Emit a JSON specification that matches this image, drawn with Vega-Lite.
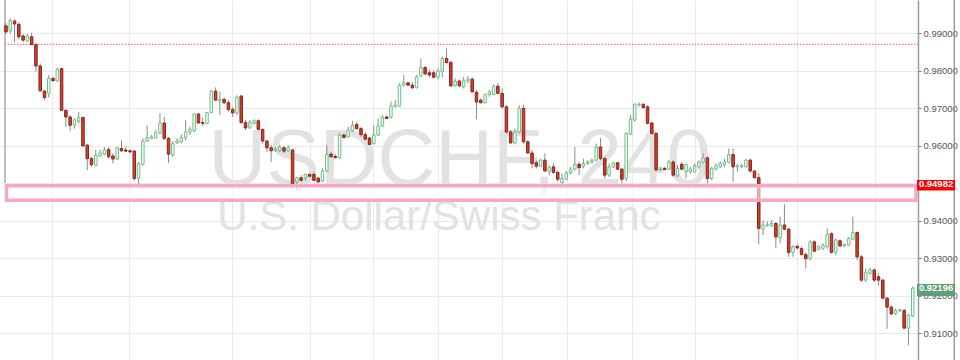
{
  "$schema": "https://vega.github.io/schema/vega-lite/v6.json",
  "width": 918,
  "height": 360,
  "autosize": "none",
  "padding": {"left": 0, "top": 0, "right": 42, "bottom": 0},
  "background": "white",
  "config": {"view": {"stroke": null}, "font": "Liberation Sans"},
  "datasets": {
    "candles": [
      {"i":1,"o":0.9919,"h":0.9927,"l":0.9897,"c":0.9903},
      {"i":2,"o":0.9906,"h":0.9939,"l":0.9899,"c":0.9933},
      {"i":3,"o":0.9932,"h":0.9937,"l":0.9876,"c":0.9924},
      {"i":4,"o":0.9923,"h":0.9929,"l":0.9884,"c":0.9890},
      {"i":5,"o":0.9892,"h":0.9897,"l":0.9876,"c":0.9881},
      {"i":6,"o":0.9879,"h":0.9897,"l":0.9876,"c":0.9892},
      {"i":7,"o":0.9890,"h":0.9901,"l":0.9869,"c":0.9869},
      {"i":8,"o":0.9869,"h":0.9872,"l":0.9797,"c":0.9812},
      {"i":9,"o":0.9812,"h":0.9819,"l":0.9743,"c":0.9746},
      {"i":10,"o":0.9745,"h":0.9748,"l":0.9721,"c":0.9728},
      {"i":11,"o":0.9739,"h":0.9788,"l":0.9728,"c":0.9779},
      {"i":12,"o":0.9779,"h":0.9783,"l":0.9770,"c":0.9773},
      {"i":13,"o":0.9772,"h":0.9808,"l":0.9770,"c":0.9803},
      {"i":14,"o":0.9805,"h":0.9807,"l":0.9692,"c":0.9694},
      {"i":15,"o":0.9694,"h":0.9694,"l":0.9650,"c":0.9676},
      {"i":16,"o":0.9676,"h":0.9681,"l":0.9639,"c":0.9654},
      {"i":17,"o":0.9654,"h":0.9672,"l":0.9645,"c":0.9668},
      {"i":18,"o":0.9665,"h":0.9690,"l":0.9659,"c":0.9674},
      {"i":19,"o":0.9675,"h":0.9676,"l":0.9596,"c":0.9599},
      {"i":20,"o":0.9601,"h":0.9605,"l":0.9534,"c":0.9565},
      {"i":21,"o":0.9565,"h":0.9570,"l":0.9543,"c":0.9549},
      {"i":22,"o":0.9547,"h":0.9588,"l":0.9545,"c":0.9574},
      {"i":23,"o":0.9572,"h":0.9589,"l":0.9570,"c":0.9580},
      {"i":24,"o":0.9577,"h":0.9596,"l":0.9574,"c":0.9588},
      {"i":25,"o":0.9589,"h":0.9596,"l":0.9565,"c":0.9570},
      {"i":26,"o":0.9572,"h":0.9579,"l":0.9552,"c":0.9564},
      {"i":27,"o":0.9564,"h":0.9596,"l":0.9561,"c":0.9594},
      {"i":28,"o":0.9592,"h":0.9614,"l":0.9583,"c":0.9586},
      {"i":29,"o":0.9588,"h":0.9596,"l":0.9583,"c":0.9585},
      {"i":30,"o":0.9586,"h":0.9589,"l":0.9580,"c":0.9583},
      {"i":31,"o":0.9585,"h":0.9588,"l":0.9507,"c":0.9512},
      {"i":32,"o":0.9512,"h":0.9556,"l":0.9490,"c":0.9552},
      {"i":33,"o":0.9550,"h":0.9619,"l":0.9547,"c":0.9612},
      {"i":34,"o":0.9612,"h":0.9654,"l":0.9610,"c":0.9621},
      {"i":35,"o":0.9619,"h":0.9628,"l":0.9619,"c":0.9623},
      {"i":36,"o":0.9620,"h":0.9641,"l":0.9619,"c":0.9634},
      {"i":37,"o":0.9634,"h":0.9687,"l":0.9630,"c":0.9660},
      {"i":38,"o":0.9660,"h":0.9676,"l":0.9614,"c":0.9619},
      {"i":39,"o":0.9619,"h":0.9623,"l":0.9554,"c":0.9577},
      {"i":40,"o":0.9574,"h":0.9612,"l":0.9570,"c":0.9605},
      {"i":41,"o":0.9607,"h":0.9619,"l":0.9605,"c":0.9612},
      {"i":42,"o":0.9610,"h":0.9630,"l":0.9605,"c":0.9621},
      {"i":43,"o":0.9621,"h":0.9668,"l":0.9614,"c":0.9636},
      {"i":44,"o":0.9636,"h":0.9650,"l":0.9628,"c":0.9643},
      {"i":45,"o":0.9639,"h":0.9686,"l":0.9636,"c":0.9684},
      {"i":46,"o":0.9684,"h":0.9686,"l":0.9659,"c":0.9660},
      {"i":47,"o":0.9661,"h":0.9675,"l":0.9652,"c":0.9659},
      {"i":48,"o":0.9659,"h":0.9690,"l":0.9657,"c":0.9688},
      {"i":49,"o":0.9688,"h":0.9748,"l":0.9686,"c":0.9745},
      {"i":50,"o":0.9745,"h":0.9755,"l":0.9719,"c":0.9721},
      {"i":51,"o":0.9719,"h":0.9743,"l":0.9681,"c":0.9723},
      {"i":52,"o":0.9723,"h":0.9728,"l":0.9710,"c":0.9714},
      {"i":53,"o":0.9714,"h":0.9721,"l":0.9690,"c":0.9696},
      {"i":54,"o":0.9696,"h":0.9703,"l":0.9676,"c":0.9687},
      {"i":55,"o":0.9687,"h":0.9734,"l":0.9681,"c":0.9728},
      {"i":56,"o":0.9732,"h":0.9734,"l":0.9659,"c":0.9661},
      {"i":57,"o":0.9661,"h":0.9668,"l":0.9641,"c":0.9647},
      {"i":58,"o":0.9647,"h":0.9668,"l":0.9645,"c":0.9661},
      {"i":59,"o":0.9659,"h":0.9670,"l":0.9656,"c":0.9666},
      {"i":60,"o":0.9666,"h":0.9670,"l":0.9641,"c":0.9643},
      {"i":61,"o":0.9643,"h":0.9645,"l":0.9605,"c":0.9612},
      {"i":62,"o":0.9612,"h":0.9614,"l":0.9583,"c":0.9594},
      {"i":63,"o":0.9594,"h":0.9601,"l":0.9556,"c":0.9586},
      {"i":64,"o":0.9586,"h":0.9596,"l":0.9583,"c":0.9590},
      {"i":65,"o":0.9586,"h":0.9601,"l":0.9583,"c":0.9596},
      {"i":66,"o":0.9594,"h":0.9598,"l":0.9580,"c":0.9585},
      {"i":67,"o":0.9585,"h":0.9601,"l":0.9583,"c":0.9594},
      {"i":68,"o":0.9588,"h":0.9592,"l":0.9490,"c":0.9496},
      {"i":69,"o":0.9503,"h":0.9516,"l":0.9481,"c":0.9514},
      {"i":70,"o":0.9514,"h":0.9521,"l":0.9503,"c":0.9507},
      {"i":71,"o":0.9513,"h":0.9525,"l":0.9507,"c":0.9523},
      {"i":72,"o":0.9523,"h":0.9525,"l":0.9516,"c":0.9518},
      {"i":73,"o":0.9523,"h":0.9530,"l":0.9505,"c":0.9507},
      {"i":74,"o":0.9513,"h":0.9516,"l":0.9499,"c":0.9503},
      {"i":75,"o":0.9505,"h":0.9539,"l":0.9503,"c":0.9532},
      {"i":76,"o":0.9532,"h":0.9601,"l":0.9530,"c":0.9577},
      {"i":77,"o":0.9577,"h":0.9583,"l":0.9568,"c":0.9570},
      {"i":78,"o":0.9571,"h":0.9577,"l":0.9565,"c":0.9568},
      {"i":79,"o":0.9568,"h":0.9632,"l":0.9565,"c":0.9628},
      {"i":80,"o":0.9628,"h":0.9632,"l":0.9619,"c":0.9621},
      {"i":81,"o":0.9623,"h":0.9650,"l":0.9621,"c":0.9641},
      {"i":82,"o":0.9639,"h":0.9666,"l":0.9636,"c":0.9654},
      {"i":83,"o":0.9656,"h":0.9663,"l":0.9643,"c":0.9645},
      {"i":84,"o":0.9645,"h":0.9650,"l":0.9623,"c":0.9629},
      {"i":85,"o":0.9629,"h":0.9636,"l":0.9614,"c":0.9617},
      {"i":86,"o":0.9620,"h":0.9623,"l":0.9601,"c":0.9603},
      {"i":87,"o":0.9605,"h":0.9654,"l":0.9603,"c":0.9628},
      {"i":88,"o":0.9628,"h":0.9672,"l":0.9625,"c":0.9652},
      {"i":89,"o":0.9652,"h":0.9681,"l":0.9650,"c":0.9676},
      {"i":90,"o":0.9676,"h":0.9681,"l":0.9670,"c":0.9672},
      {"i":91,"o":0.9675,"h":0.9717,"l":0.9672,"c":0.9705},
      {"i":92,"o":0.9703,"h":0.9721,"l":0.9702,"c":0.9708},
      {"i":93,"o":0.9705,"h":0.9766,"l":0.9703,"c":0.9761},
      {"i":94,"o":0.9761,"h":0.9788,"l":0.9757,"c":0.9767},
      {"i":95,"o":0.9767,"h":0.9770,"l":0.9758,"c":0.9761},
      {"i":96,"o":0.9761,"h":0.9770,"l":0.9750,"c":0.9754},
      {"i":97,"o":0.9754,"h":0.9788,"l":0.9752,"c":0.9783},
      {"i":98,"o":0.9785,"h":0.9832,"l":0.9783,"c":0.9808},
      {"i":99,"o":0.9808,"h":0.9812,"l":0.9788,"c":0.9791},
      {"i":100,"o":0.9794,"h":0.9803,"l":0.9782,"c":0.9788},
      {"i":101,"o":0.9794,"h":0.9801,"l":0.9779,"c":0.9782},
      {"i":102,"o":0.9782,"h":0.9806,"l":0.9776,"c":0.9799},
      {"i":103,"o":0.9797,"h":0.9837,"l":0.9782,"c":0.9832},
      {"i":104,"o":0.9832,"h":0.9859,"l":0.9819,"c":0.9821},
      {"i":105,"o":0.9822,"h":0.9824,"l":0.9757,"c":0.9759},
      {"i":106,"o":0.9759,"h":0.9779,"l":0.9757,"c":0.9772},
      {"i":107,"o":0.9772,"h":0.9776,"l":0.9757,"c":0.9759},
      {"i":108,"o":0.9757,"h":0.9783,"l":0.9752,"c":0.9773},
      {"i":109,"o":0.9772,"h":0.9785,"l":0.9766,"c":0.9777},
      {"i":110,"o":0.9777,"h":0.9782,"l":0.9742,"c":0.9743},
      {"i":111,"o":0.9742,"h":0.9748,"l":0.9670,"c":0.9716},
      {"i":112,"o":0.9721,"h":0.9726,"l":0.9712,"c":0.9714},
      {"i":113,"o":0.9714,"h":0.9739,"l":0.9712,"c":0.9736},
      {"i":114,"o":0.9736,"h":0.9748,"l":0.9730,"c":0.9743},
      {"i":115,"o":0.9736,"h":0.9763,"l":0.9734,"c":0.9758},
      {"i":116,"o":0.9758,"h":0.9766,"l":0.9737,"c":0.9739},
      {"i":117,"o":0.9739,"h":0.9752,"l":0.9699,"c":0.9703},
      {"i":118,"o":0.9703,"h":0.9708,"l":0.9632,"c":0.9636},
      {"i":119,"o":0.9636,"h":0.9641,"l":0.9605,"c":0.9607},
      {"i":120,"o":0.9607,"h":0.9645,"l":0.9603,"c":0.9636},
      {"i":121,"o":0.9636,"h":0.9708,"l":0.9632,"c":0.9699},
      {"i":122,"o":0.9699,"h":0.9708,"l":0.9605,"c":0.9610},
      {"i":123,"o":0.9610,"h":0.9614,"l":0.9579,"c":0.9580},
      {"i":124,"o":0.9580,"h":0.9588,"l":0.9539,"c":0.9552},
      {"i":125,"o":0.9554,"h":0.9559,"l":0.9539,"c":0.9545},
      {"i":126,"o":0.9545,"h":0.9565,"l":0.9543,"c":0.9561},
      {"i":127,"o":0.9561,"h":0.9579,"l":0.9530,"c":0.9532},
      {"i":128,"o":0.9530,"h":0.9548,"l":0.9521,"c":0.9541},
      {"i":129,"o":0.9543,"h":0.9552,"l":0.9525,"c":0.9528},
      {"i":130,"o":0.9528,"h":0.9534,"l":0.9503,"c":0.9510},
      {"i":131,"o":0.9501,"h":0.9525,"l":0.9499,"c":0.9512},
      {"i":132,"o":0.9510,"h":0.9532,"l":0.9508,"c":0.9527},
      {"i":133,"o":0.9527,"h":0.9543,"l":0.9523,"c":0.9537},
      {"i":134,"o":0.9537,"h":0.9596,"l":0.9534,"c":0.9550},
      {"i":135,"o":0.9550,"h":0.9556,"l":0.9521,"c":0.9541},
      {"i":136,"o":0.9545,"h":0.9565,"l":0.9539,"c":0.9552},
      {"i":137,"o":0.9552,"h":0.9561,"l":0.9548,"c":0.9556},
      {"i":138,"o":0.9556,"h":0.9565,"l":0.9552,"c":0.9561},
      {"i":139,"o":0.9561,"h":0.9605,"l":0.9558,"c":0.9596},
      {"i":140,"o":0.9596,"h":0.9620,"l":0.9561,"c":0.9565},
      {"i":141,"o":0.9565,"h":0.9570,"l":0.9512,"c":0.9521},
      {"i":142,"o":0.9521,"h":0.9552,"l":0.9516,"c":0.9543},
      {"i":143,"o":0.9543,"h":0.9556,"l":0.9540,"c":0.9554},
      {"i":144,"o":0.9554,"h":0.9556,"l":0.9534,"c":0.9537},
      {"i":145,"o":0.9537,"h":0.9540,"l":0.9499,"c":0.9510},
      {"i":146,"o":0.9512,"h":0.9635,"l":0.9505,"c":0.9632},
      {"i":147,"o":0.9630,"h":0.9681,"l":0.9628,"c":0.9670},
      {"i":148,"o":0.9668,"h":0.9712,"l":0.9663,"c":0.9710},
      {"i":149,"o":0.9708,"h":0.9715,"l":0.9703,"c":0.9710},
      {"i":150,"o":0.9710,"h":0.9712,"l":0.9699,"c":0.9701},
      {"i":151,"o":0.9703,"h":0.9708,"l":0.9656,"c":0.9659},
      {"i":152,"o":0.9660,"h":0.9663,"l":0.9629,"c":0.9632},
      {"i":153,"o":0.9632,"h":0.9635,"l":0.9530,"c":0.9535},
      {"i":154,"o":0.9535,"h":0.9543,"l":0.9532,"c":0.9537},
      {"i":155,"o":0.9539,"h":0.9543,"l":0.9534,"c":0.9536},
      {"i":156,"o":0.9537,"h":0.9561,"l":0.9534,"c":0.9556},
      {"i":157,"o":0.9556,"h":0.9561,"l":0.9516,"c":0.9521},
      {"i":158,"o":0.9519,"h":0.9548,"l":0.9516,"c":0.9539},
      {"i":159,"o":0.9550,"h":0.9556,"l":0.9534,"c":0.9537},
      {"i":160,"o":0.9530,"h":0.9552,"l":0.9512,"c":0.9550},
      {"i":161,"o":0.9530,"h":0.9543,"l":0.9525,"c":0.9537},
      {"i":162,"o":0.9530,"h":0.9552,"l":0.9528,"c":0.9546},
      {"i":163,"o":0.9543,"h":0.9561,"l":0.9537,"c":0.9556},
      {"i":164,"o":0.9556,"h":0.9579,"l":0.9552,"c":0.9567},
      {"i":165,"o":0.9567,"h":0.9570,"l":0.9499,"c":0.9512},
      {"i":166,"o":0.9512,"h":0.9543,"l":0.9508,"c":0.9539},
      {"i":167,"o":0.9537,"h":0.9552,"l":0.9534,"c":0.9546},
      {"i":168,"o":0.9543,"h":0.9558,"l":0.9539,"c":0.9552},
      {"i":169,"o":0.9548,"h":0.9565,"l":0.9543,"c":0.9556},
      {"i":170,"o":0.9555,"h":0.9592,"l":0.9552,"c":0.9576},
      {"i":171,"o":0.9576,"h":0.9592,"l":0.9503,"c":0.9543},
      {"i":172,"o":0.9543,"h":0.9552,"l":0.9530,"c":0.9546},
      {"i":173,"o":0.9543,"h":0.9552,"l":0.9539,"c":0.9546},
      {"i":174,"o":0.9543,"h":0.9564,"l":0.9541,"c":0.9561},
      {"i":175,"o":0.9561,"h":0.9565,"l":0.9528,"c":0.9532},
      {"i":176,"o":0.9532,"h":0.9534,"l":0.9512,"c":0.9514},
      {"i":177,"o":0.9514,"h":0.9526,"l":0.9336,"c":0.9379},
      {"i":178,"o":0.9377,"h":0.9401,"l":0.9361,"c":0.9388},
      {"i":179,"o":0.9386,"h":0.9398,"l":0.9383,"c":0.9389},
      {"i":180,"o":0.9386,"h":0.9401,"l":0.9383,"c":0.9392},
      {"i":181,"o":0.9392,"h":0.9396,"l":0.9326,"c":0.9356},
      {"i":182,"o":0.9354,"h":0.9410,"l":0.9339,"c":0.9388},
      {"i":183,"o":0.9388,"h":0.9443,"l":0.9374,"c":0.9377},
      {"i":184,"o":0.9377,"h":0.9380,"l":0.9303,"c":0.9315},
      {"i":185,"o":0.9315,"h":0.9334,"l":0.9303,"c":0.9330},
      {"i":186,"o":0.9331,"h":0.9336,"l":0.9323,"c":0.9327},
      {"i":187,"o":0.9325,"h":0.9330,"l":0.9307,"c":0.9309},
      {"i":188,"o":0.9309,"h":0.9314,"l":0.9272,"c":0.9298},
      {"i":189,"o":0.9298,"h":0.9347,"l":0.9294,"c":0.9343},
      {"i":190,"o":0.9343,"h":0.9347,"l":0.9316,"c":0.9318},
      {"i":191,"o":0.9323,"h":0.9334,"l":0.9321,"c":0.9330},
      {"i":192,"o":0.9326,"h":0.9339,"l":0.9321,"c":0.9334},
      {"i":193,"o":0.9330,"h":0.9379,"l":0.9325,"c":0.9363},
      {"i":194,"o":0.9365,"h":0.9368,"l":0.9312,"c":0.9315},
      {"i":195,"o":0.9315,"h":0.9352,"l":0.9307,"c":0.9348},
      {"i":196,"o":0.9346,"h":0.9349,"l":0.9330,"c":0.9332},
      {"i":197,"o":0.9332,"h":0.9339,"l":0.9330,"c":0.9336},
      {"i":198,"o":0.9334,"h":0.9356,"l":0.9332,"c":0.9352},
      {"i":199,"o":0.9350,"h":0.9410,"l":0.9347,"c":0.9368},
      {"i":200,"o":0.9368,"h":0.9371,"l":0.9294,"c":0.9303},
      {"i":201,"o":0.9303,"h":0.9308,"l":0.9236,"c":0.9241},
      {"i":202,"o":0.9241,"h":0.9272,"l":0.9236,"c":0.9262},
      {"i":203,"o":0.9259,"h":0.9274,"l":0.9255,"c":0.9268},
      {"i":204,"o":0.9268,"h":0.9272,"l":0.9236,"c":0.9241},
      {"i":205,"o":0.9250,"h":0.9259,"l":0.9227,"c":0.9241},
      {"i":206,"o":0.9241,"h":0.9245,"l":0.9190,"c":0.9193},
      {"i":207,"o":0.9193,"h":0.9196,"l":0.9111,"c":0.9169},
      {"i":208,"o":0.9169,"h":0.9174,"l":0.9147,"c":0.9151},
      {"i":209,"o":0.9151,"h":0.9165,"l":0.9148,"c":0.9160},
      {"i":210,"o":0.9159,"h":0.9165,"l":0.9156,"c":0.9162},
      {"i":211,"o":0.9160,"h":0.9165,"l":0.9110,"c":0.9113},
      {"i":212,"o":0.9113,"h":0.9151,"l":0.9067,"c":0.9147},
      {"i":213,"o":0.9145,"h":0.9224,"l":0.9143,"c":0.92196}
    ]
  },
  "layer": [
    {
      "data": {"values": [{"t": "USDCHF, 240", "x": 107.1, "y": 0.9495, "s": 80}, {"t": "U.S. Dollar/Swiss Franc", "x": 102.2, "y": 0.9374, "s": 42}]},
      "mark": {"type": "text", "align": "center", "baseline": "alphabetic", "color": "#e2e2e2", "font": "Liberation Sans"},
      "encoding": {
        "x": {"field": "x", "type": "quantitative", "scale": {"domain": [-0.4, 214.23], "nice": false, "zero": false, "padding": 0},
              "axis": {"values": [11.76, 29.76, 53.84, 72.08, 86.8, 102.0, 116.97, 132.2, 147.4, 162.1, 185.9, 204.2], "labels": false, "ticks": false, "domain": false, "title": null, "grid": true, "gridColor": "#e9e9e9", "gridWidth": 1}},
        "y": {"field": "y", "type": "quantitative", "scale": {"domain": [0.9028, 0.9988], "nice": false, "zero": false, "padding": 0},
              "axis": {"orient": "right", "values": [0.91, 0.92, 0.93, 0.94, 0.95, 0.96, 0.97, 0.98, 0.99], "format": ".5f", "labelExpr": "abs(datum.value - 0.95) < 0.000001 ? '' : datum.label", "title": null, "grid": true, "gridColor": "#e9e9e9", "gridWidth": 1, "domainColor": "#9a9a9a", "domainWidth": 1.5, "tickColor": "#777", "tickSize": 3, "labelPadding": 2, "labelFontSize": 9.5, "labelColor": "#555", "labelFont": "Liberation Sans"}},
        "text": {"field": "t"},
        "size": {"field": "s", "type": "quantitative", "scale": null}
      }
    },
    {
      "data": {"values": [{"y": 0.98699, "x": 0.77, "x2": 214.23}]},
      "mark": {"type": "rule", "color": "#f05a4f", "strokeDash": [1.5, 1.5], "strokeWidth": 1},
      "encoding": {"y": {"field": "y", "type": "quantitative"}, "x": {"field": "x", "type": "quantitative"}, "x2": {"field": "x2"}}
    },
    {
      "data": {"values": [{"x": 0.77, "y": 0.9988, "y2": 0.95}]},
      "mark": {"type": "rule", "color": "#aaaaaa", "strokeWidth": 1.5},
      "encoding": {"x": {"field": "x", "type": "quantitative"}, "y": {"field": "y", "type": "quantitative"}, "y2": {"field": "y2"}}
    },
    {
      "data": {"name": "candles"},
      "mark": {"type": "rule", "color": "#8c8c8c", "strokeWidth": 1},
      "encoding": {"x": {"field": "i", "type": "quantitative"}, "y": {"field": "l", "type": "quantitative"}, "y2": {"field": "h"}}
    },
    {
      "data": {"name": "candles"},
      "mark": {"type": "bar", "size": 2.5, "strokeWidth": 1},
      "encoding": {
        "x": {"field": "i", "type": "quantitative"},
        "y": {"field": "o", "type": "quantitative"},
        "y2": {"field": "c"},
        "fill": {"condition": {"test": "datum.c >= datum.o", "value": "#f3fbf5"}, "value": "#d0412f"},
        "stroke": {"condition": {"test": "datum.c >= datum.o", "value": "#6cbf8a"}, "value": "#8a2216"}
      }
    },
    {
      "data": {"values": [{"x": 1.12, "x2": 213.77, "y": 0.94538, "y2": 0.94928}]},
      "mark": {"type": "rect", "fill": "white", "fillOpacity": 0.6, "stroke": "#f8a7c7", "strokeWidth": 3.5},
      "encoding": {"x": {"field": "x", "type": "quantitative"}, "x2": {"field": "x2"}, "y": {"field": "y", "type": "quantitative"}, "y2": {"field": "y2"}}
    },
    {
      "data": {"values": [{"x": 222.72, "y": 0.9028, "y2": 0.9988}]},
      "mark": {"type": "rule", "color": "#9a9a9a", "strokeWidth": 1.5},
      "encoding": {"x": {"field": "x", "type": "quantitative"}, "y": {"field": "y", "type": "quantitative"}, "y2": {"field": "y2"}}
    },
    {
      "data": {"values": [{"x": 214.0, "x2": 222.9, "xc": 218.45, "y": 0.9480, "y2": 0.9508, "v": 0.94982, "t": "0.94982", "col": "#ff0000"}, {"x": 214.0, "x2": 222.9, "xc": 218.45, "y": 0.91987, "y2": 0.92307, "v": 0.92196, "t": "0.92196", "col": "#5e9f78"}]},
      "layer": [
        {
          "mark": {"type": "rect"},
          "encoding": {"x": {"field": "x", "type": "quantitative"}, "x2": {"field": "x2"}, "y": {"field": "y", "type": "quantitative"}, "y2": {"field": "y2"}, "fill": {"field": "col", "type": "nominal", "scale": null}}
        },
        {
          "mark": {"type": "text", "color": "white", "fontSize": 9.5, "fontWeight": "bold", "align": "center", "baseline": "middle", "font": "Liberation Sans"},
          "encoding": {"x": {"field": "xc", "type": "quantitative"}, "y": {"field": "v", "type": "quantitative"}, "text": {"field": "t"}}
        }
      ]
    }
  ]
}
